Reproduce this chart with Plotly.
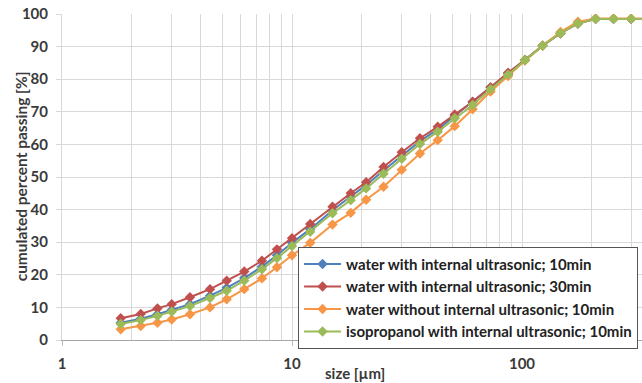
import plotly.graph_objects as go

size_um = [1.8, 2.2, 2.6, 3.0, 3.6, 4.4, 5.2, 6.2, 7.4, 8.6, 10, 12, 15, 18, 21, 25, 30, 36,
           43, 51, 61, 73, 87, 103, 123, 147, 175, 209, 250, 298, 355]

water_us_10 = [5.3, 6.5, 7.9, 9.2, 11.0, 13.6, 16.0, 19.0, 22.5, 26.0, 29.8, 34.0, 39.8, 44.0,
               47.5, 52.0, 56.6, 61.0, 64.6, 68.8, 73.0, 77.5, 81.7, 85.9, 90.3, 94.1, 97.1,
               98.5, 98.5, 98.5, 98.5]
water_us_30 = [6.7, 8.0, 9.7, 11.0, 13.1, 15.6, 18.2, 21.0, 24.3, 27.8, 31.2, 35.6, 40.9, 45.0,
               48.4, 53.1, 57.6, 61.9, 65.4, 69.2, 73.1, 77.5, 82.0, 85.9, 90.3, 94.1, 97.1,
               98.5, 98.5, 98.5, 98.5]
water_no_us_10 = [3.3, 4.3, 5.3, 6.3, 7.9, 10.0, 12.5, 15.6, 18.9, 22.3, 26.0, 29.8, 35.4, 39.0,
                  43.0, 47.0, 52.2, 57.2, 61.3, 65.6, 70.8, 76.2, 81.0, 85.7, 90.3, 94.5, 97.6,
                  98.6, 98.6, 98.6, 98.6]
isoprop_us_10 = [4.9, 6.1, 7.4, 8.7, 10.4, 12.9, 15.1, 18.2, 21.7, 25.1, 28.8, 33.2, 38.9, 42.9,
                 46.5, 51.0, 55.6, 60.1, 63.9, 68.0, 72.1, 76.9, 81.4, 85.9, 90.3, 94.1, 97.1,
                 98.5, 98.5, 98.5, 98.5]

series_names = ["water with internal ultrasonic; 10min",
                "water with internal ultrasonic; 30min",
                "water without internal ultrasonic; 10min",
                "isopropanol with internal ultrasonic; 10min"]
series_values = [water_us_10, water_us_30, water_no_us_10, isoprop_us_10]
series_colors = ["#4F81BD", "#C0504D", "#F79646", "#9BBB59"]

major_ticks = [1, 10, 100]
minor_ticks = [2, 3, 4, 5, 6, 7, 8, 9, 20, 30, 40, 50, 60, 70, 80, 90, 200, 300]
y_ticks = list(range(0, 101, 10))

x_title = "size [µm]"
y_title = "cumulated percent passing [%]"

FONT = "Lato"
TXT = "#3a3a3a"

fig = go.Figure()
for name, vals, col in zip(series_names, series_values, series_colors):
    fig.add_trace(go.Scatter(
        x=size_um, y=vals, name=name, mode="lines+markers",
        line=dict(color=col, width=2),
        marker=dict(symbol="diamond", size=8, color=col),
        cliponaxis=True,
    ))

fig.update_layout(
    width=642, height=383,
    margin=dict(l=62, r=0, t=14, b=43, autoexpand=False),
    paper_bgcolor="white", plot_bgcolor="white",
    font=dict(family=FONT, color=TXT),
    showlegend=True,
    legend=dict(
        x=0.407, y=0.286, xanchor="left", yanchor="top",
        bgcolor="white", bordercolor="#555555", borderwidth=1,
        font=dict(family=FONT, size=15, color="#222222", weight="bold"),
        itemwidth=37, tracegroupgap=0,
    ),
    annotations=[
        dict(text=x_title, xref="paper", yref="paper", x=0.505, y=-0.101,
             xanchor="center", yanchor="middle", showarrow=False,
             font=dict(family=FONT, size=15, color=TXT, weight="bold")),
        dict(text=y_title, xref="paper", yref="paper", x=-0.0707, y=0.502,
             xanchor="center", yanchor="middle", showarrow=False, textangle=-90,
             font=dict(family=FONT, size=15.5, color=TXT, weight="bold")),
    ],
)

fig.update_xaxes(
    type="log", range=[0, 2.5217], automargin=False,
    tickvals=major_ticks, ticktext=[str(v) for v in major_ticks],
    ticks="outside", ticklen=5, tickcolor="#bfbfbf", ticklabelstandoff=5,
    ticklabeloverflow="allow",
    tickfont=dict(family=FONT, size=15, color=TXT, weight="bold"),
    showgrid=True, gridcolor="#d9d9d9", gridwidth=1,
    minor=dict(tickvals=minor_ticks, showgrid=True, gridcolor="#d9d9d9", gridwidth=1, ticks=""),
    showline=True, linecolor="#a6a6a6", linewidth=1,
    zeroline=False,
)
fig.update_yaxes(
    range=[0, 100], tickvals=y_ticks, automargin=False,
    ticks="outside", ticklen=5, tickcolor="#d9d9d9", ticklabelstandoff=5,
    ticklabeloverflow="allow",
    tickfont=dict(family=FONT, size=15, color=TXT, weight="bold"),
    showgrid=True, gridcolor="#d9d9d9", gridwidth=1,
    showline=True, linecolor="#d9d9d9", linewidth=1,
    zeroline=False,
)

fig.write_html("out.html", config={"displayModeBar": False},
               post_script="document.body.style.margin='0';")
